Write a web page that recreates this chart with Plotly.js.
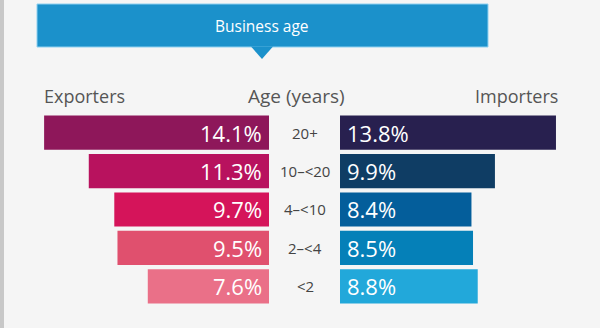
<!DOCTYPE html>
<html><head><meta charset="utf-8">
<script src="https://cdn.plot.ly/plotly-3.0.1.min.js"></script>
<style>html,body{margin:0;padding:0;background:#f5f5f5;}#c{width:600px;height:328px;}</style>
</head><body><div id="c"></div>
<script>
const ageGroups = ["20+", "10–<20", "4–<10", "2–<4", "<2"];
const exporters = [14.1, 11.3, 9.7, 9.5, 7.6];
const importers = [13.8, 9.9, 8.4, 8.5, 8.8];
const exportColors = ["#8e175a", "#b8125e", "#d5145a", "#e0506e", "#ea7088"];
const importColors = ["#28204f", "#0f3d64", "#045e9b", "#0580b8", "#22a8da"];
const fmt = v => v.toFixed(1) + "%";

const W = 600, H = 328;
const px = x => x / W, py = y => 1 - y / H;
const FONT = "Open Sans, sans-serif";

const traces = [
  {type: "bar", orientation: "h", y: ageGroups, x: exporters, xaxis: "x", yaxis: "y",
   marker: {color: exportColors}, hoverinfo: "none", width: 0.89},
  {type: "bar", orientation: "h", y: ageGroups, x: importers, xaxis: "x2", yaxis: "y",
   marker: {color: importColors}, hoverinfo: "none", width: 0.89}
];

const annotations = [];
ageGroups.forEach((g, i) => {
  annotations.push({xref: "paper", yref: "y", x: px(305), y: g, text: g, showarrow: false,
    xanchor: "center", font: {family: FONT, size: 15, color: "#444444"}});
  annotations.push({xref: "x", yref: "y", x: 0, y: g, text: fmt(exporters[i]), showarrow: false,
    xanchor: "right", xshift: -5, font: {family: FONT, size: 22, color: "#ffffff"}});
  annotations.push({xref: "x2", yref: "y", x: 0, y: g, text: fmt(importers[i]), showarrow: false,
    xanchor: "left", xshift: 5, font: {family: FONT, size: 22, color: "#ffffff"}});
});
annotations.push({xref: "paper", yref: "paper", x: px(262), y: py(25.5), text: "Business age", showarrow: false,
  xanchor: "center", yanchor: "middle", font: {family: FONT, size: 15.5, color: "#ffffff"}});
annotations.push({xref: "paper", yref: "paper", x: px(42), y: py(96), text: "Exporters", showarrow: false,
  xanchor: "left", yanchor: "middle", font: {family: FONT, size: 18, color: "#555555"}});
annotations.push({xref: "paper", yref: "paper", x: px(347), y: py(96), text: "Age (years)", showarrow: false,
  xanchor: "right", yanchor: "middle", font: {family: FONT, size: 19, color: "#555555"}});
annotations.push({xref: "paper", yref: "paper", x: px(560), y: py(96), text: "Importers", showarrow: false,
  xanchor: "right", yanchor: "middle", font: {family: FONT, size: 18, color: "#555555"}});

const shapes = [
  {type: "rect", xref: "paper", yref: "paper", x0: 0, x1: px(4), y0: 0, y1: 1,
   fillcolor: "#c8c8c8", line: {width: 0}, layer: "below"},
  {type: "rect", xref: "paper", yref: "paper", x0: px(37), x1: px(488), y0: py(47), y1: py(4),
   fillcolor: "#1b91cb", line: {width: 1, color: "#8fd0f0"}, layer: "below"},
  {type: "path", xref: "paper", yref: "paper",
   path: `M ${px(251)} ${py(46.5)} L ${px(273)} ${py(46.5)} L ${px(262)} ${py(59)} Z`,
   fillcolor: "#1b91cb", line: {width: 0}, layer: "below"}
];

const layout = {
  width: W, height: H, margin: {l: 0, r: 0, t: 0, b: 0},
  paper_bgcolor: "#f5f5f5", plot_bgcolor: "rgba(0,0,0,0)",
  showlegend: false, barmode: "overlay",
  xaxis: {domain: [0, px(269)], range: [269 / 15.95, 0], visible: false, fixedrange: true},
  xaxis2: {domain: [px(340), 1], range: [0, 260 / 15.65], visible: false, fixedrange: true, anchor: "y"},
  yaxis: {domain: [py(305.5), py(113.5)], range: [4.5, -0.5], type: "category",
          visible: false, fixedrange: true},
  annotations: annotations, shapes: shapes
};

Plotly.newPlot("c", traces, layout, {displayModeBar: false, staticPlot: true});
</script></body></html>
